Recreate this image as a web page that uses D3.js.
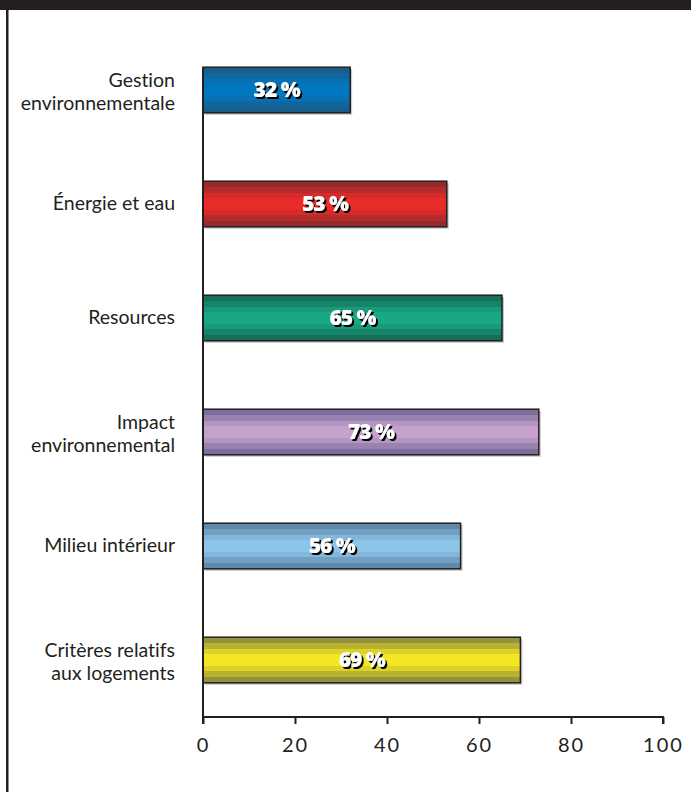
<!DOCTYPE html>
<html>
<head>
<meta charset="utf-8">
<script src="https://cdn.jsdelivr.net/npm/d3@7"></script>
<style>
  body { margin: 0; background: #fff; }
  svg { display: block; }
  .cat { font-family: Lato, "Open Sans", sans-serif; font-size: 19.5px; fill: #231f20; font-variant-ligatures: none; }
  .tick text { font-family: Lato, sans-serif; font-size: 20px; letter-spacing: 2px; fill: #231f20; }
  .val { font-family: "Open Sans", sans-serif; font-weight: 800; font-size: 21px; letter-spacing: -1px; }
</style>
</head>
<body>
<div id="main"></div>
<script>
const categories = [
  ["Gestion", "environnementale"],
  ["Énergie et eau"],
  ["Resources"],
  ["Impact", "environnemental"],
  ["Milieu intérieur"],
  ["Critères relatifs", "aux logements"]
];
const values = [32, 53, 65, 73, 56, 69];
// edge colour, middle colour of each bar's stripes
const edgeColors = ["#1b5a86", "#8e2a2a", "#146a55", "#756a98", "#5c84a4", "#8c8a3e"];
const midColors = ["#0078c1", "#ec2b2a", "#1aa987", "#c9a3d0", "#8ec7ec", "#f7e922"];
const ticks = [0, 20, 40, 60, 80, 100];

const w = 691, h = 792;
const margin = { top: 33, left: 203, right: 28, bottom: 75 };

const svg = d3.select("#main").append("svg")
  .attr("width", w)
  .attr("height", h);

// frame: dark band on top and a rule on the left
svg.append("rect").attr("x", 0).attr("y", 0).attr("width", w).attr("height", 10).attr("fill", "#231f20");
svg.append("rect").attr("x", 6).attr("y", 0).attr("width", 2.5).attr("height", h).attr("fill", "#231f20");

const x = d3.scaleLinear().domain([0, 100]).range([margin.left, w - margin.right]);
const y = d3.scaleBand()
  .domain(d3.range(values.length))
  .range([margin.top, h - margin.bottom])
  .paddingInner(0.6)
  .paddingOuter(0.3);

const defs = svg.append("defs");
values.forEach((v, i) => {
  const g = defs.append("linearGradient")
    .attr("id", "grad" + i)
    .attr("x1", 0).attr("x2", 0).attr("y1", 0).attr("y2", 1);
  const c = d3.interpolateRgb(edgeColors[i], midColors[i]);
  const n = 8;
  for (let k = 0; k < n; k++) {
    const t = Math.sin(Math.PI * (k + 0.5) / n);
    const col = c(Math.pow(t, 1.5));
    g.append("stop").attr("offset", k / n).attr("stop-color", col);
    g.append("stop").attr("offset", (k + 1) / n).attr("stop-color", col);
  }
});

// black drop shadow for the value labels
const f = defs.append("filter").attr("id", "shadow")
  .attr("x", "-20%").attr("y", "-30%").attr("width", "140%").attr("height", "160%");
f.append("feOffset").attr("in", "SourceAlpha").attr("dx", 2).attr("dy", 2).attr("result", "off");
f.append("feFlood").attr("flood-color", "#000");
f.append("feComposite").attr("in2", "off").attr("operator", "in").attr("result", "sh");
const fm = f.append("feMerge");
fm.append("feMergeNode").attr("in", "sh");
fm.append("feMergeNode").attr("in", "SourceGraphic");

const bars = svg.append("g").selectAll("g")
  .data(values)
  .join("g");

// light shadow
bars.append("rect")
  .attr("x", x(0) + 2)
  .attr("y", (d, i) => y(i) + 2)
  .attr("width", d => x(d) - x(0))
  .attr("height", y.bandwidth())
  .attr("fill", "#c8c8c8");

bars.append("rect")
  .attr("x", x(0))
  .attr("y", (d, i) => y(i))
  .attr("width", d => x(d) - x(0))
  .attr("height", y.bandwidth())
  .attr("fill", (d, i) => "url(#grad" + i + ")")
  .attr("stroke", "#231f20")
  .attr("stroke-width", 1.5);

bars.append("text")
  .attr("class", "val")
  .attr("x", d => (x(0) + x(d)) / 2)
  .attr("y", (d, i) => y(i) + y.bandwidth() / 2 + 7)
  .attr("text-anchor", "middle")
  .attr("fill", "#fff")
  .attr("filter", "url(#shadow)")
  .text(d => d + " %");

// category labels
svg.append("g").selectAll("text")
  .data(categories)
  .join("text")
  .attr("class", "cat")
  .attr("text-anchor", "end")
  .attr("x", 175)
  .attr("y", (d, i) => y(i) + y.bandwidth() / 2 + 6 - (d.length - 1) * 9)
  .selectAll("tspan")
  .data(d => d)
  .join("tspan")
  .attr("x", 175)
  .attr("dy", (d, j) => j === 0 ? 0 : 23)
  .text(d => d);

// axes
svg.append("line")
  .attr("x1", x(0)).attr("x2", x(0))
  .attr("y1", y(0)).attr("y2", h - margin.bottom)
  .attr("stroke", "#231f20").attr("stroke-width", 2);

const xAxis = d3.axisBottom(x).tickValues(ticks).tickSize(7).tickPadding(14);
const gx = svg.append("g")
  .attr("transform", "translate(0," + (h - margin.bottom) + ")")
  .call(xAxis);
gx.select(".domain").attr("stroke", "#231f20").attr("stroke-width", 2).attr("d", "M" + x(0) + ",7V0H" + x(100) + "V7");
gx.selectAll(".tick line").attr("stroke", "#231f20").attr("stroke-width", 2);
</script>
</body>
</html>
